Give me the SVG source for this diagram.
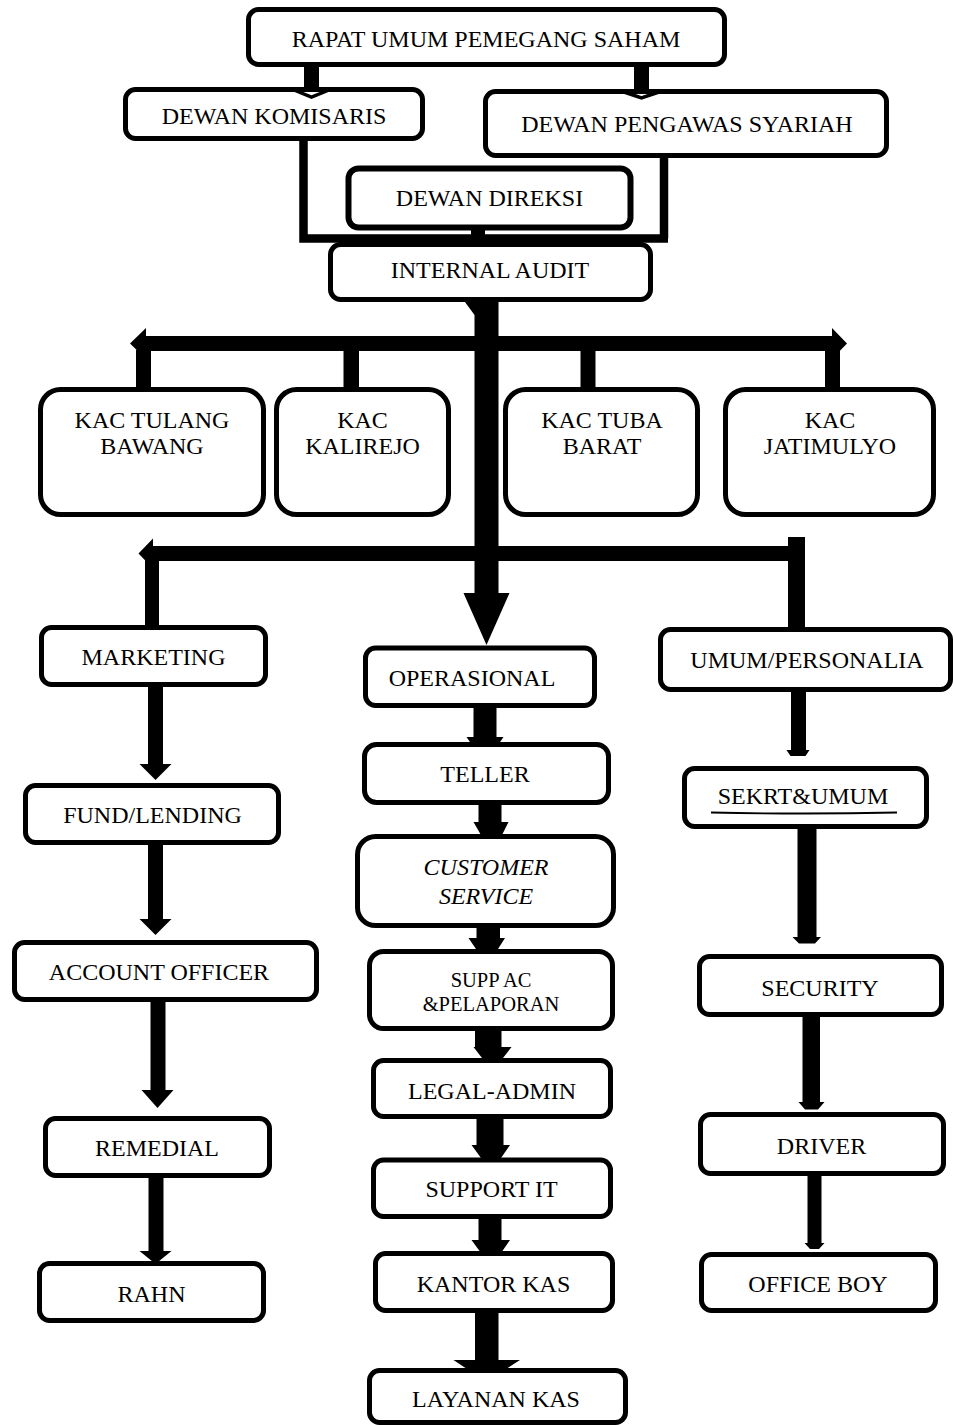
<svg xmlns="http://www.w3.org/2000/svg" width="953" height="1425" viewBox="0 0 953 1425">
<style>
.box{fill:#fff;stroke:#000;stroke-width:5}
.t{font-family:"Liberation Serif","Times New Roman",serif;font-size:24px;fill:#000;text-anchor:middle}
.ti{font-style:italic}
.s{font-size:20.5px}
.c{fill:#000;stroke:none}
.ln{fill:none;stroke:#000;stroke-width:8.5}
.v{fill:none;stroke:#000;stroke-width:3.5}
</style>
<rect width="953" height="1425" fill="#fff"/>
<g id="nodes">
<g id="rups"><rect class="box" x="248.5" y="9.5" width="476" height="55" rx="10"/><text class="t" x="486" y="46.7">RAPAT UMUM PEMEGANG SAHAM</text></g>
<g id="komisaris"><rect class="box" x="125.5" y="89.5" width="297" height="49" rx="10"/><text class="t" x="274" y="124">DEWAN KOMISARIS</text></g>
<g id="dps"><rect class="box" x="485.5" y="91.5" width="401" height="64" rx="10"/><text class="t" x="687" y="131.7">DEWAN PENGAWAS SYARIAH</text></g>
<g id="direksi"><rect class="box" x="348.5" y="168.5" width="282" height="59" rx="10" style="stroke-width:6"/><text class="t" x="489.5" y="205.7">DEWAN DIREKSI</text></g>
<g id="audit"><rect class="box" x="330.5" y="244.5" width="320" height="55" rx="10"/><text class="t" x="490" y="278.3">INTERNAL AUDIT</text></g>
<g id="kac1"><rect class="box" x="40.5" y="389.5" width="223" height="125" rx="20"/><text class="t" x="152" y="427.7">KAC TULANG</text><text class="t" x="152" y="454">BAWANG</text></g>
<g id="kac2"><rect class="box" x="276.5" y="389.5" width="172" height="125" rx="20"/><text class="t" x="362.5" y="427.7">KAC</text><text class="t" x="362.5" y="454">KALIREJO</text></g>
<g id="kac3"><rect class="box" x="505.5" y="389.5" width="192" height="125" rx="20"/><text class="t" x="602" y="427.7">KAC TUBA</text><text class="t" x="602" y="454">BARAT</text></g>
<g id="kac4"><rect class="box" x="725.5" y="389.5" width="208" height="125" rx="20"/><text class="t" x="830" y="427.7">KAC</text><text class="t" x="830" y="454">JATIMULYO</text></g>
<g id="marketing"><rect class="box" x="41.5" y="627.5" width="224" height="57" rx="10"/><text class="t" x="153.5" y="665">MARKETING</text></g>
<g id="operasional"><rect class="box" x="365.5" y="648" width="229" height="57.5" rx="10"/><text class="t" x="472" y="686">OPERASIONAL</text></g>
<g id="umum"><rect class="box" x="660.5" y="629.5" width="290" height="60" rx="10"/><text class="t" x="807" y="667.7">UMUM/PERSONALIA</text></g>
<g id="fund"><rect class="box" x="25.5" y="785.5" width="253" height="57" rx="10"/><text class="t" x="152.5" y="822.7">FUND/LENDING</text></g>
<g id="ao"><rect class="box" x="14.5" y="942.5" width="302" height="57" rx="10"/><text class="t" x="159" y="980">ACCOUNT OFFICER</text></g>
<g id="remedial"><rect class="box" x="45.5" y="1118.5" width="224" height="57" rx="10"/><text class="t" x="157" y="1155.7">REMEDIAL</text></g>
<g id="rahn"><rect class="box" x="39.5" y="1263.5" width="224" height="57" rx="10"/><text class="t" x="151.5" y="1301.7">RAHN</text></g>
<g id="teller"><rect class="box" x="364.5" y="744.5" width="244" height="58" rx="12"/><text class="t" x="485" y="782">TELLER</text></g>
<g id="cs"><rect class="box" x="357.5" y="836.5" width="256" height="89" rx="18"/><text class="t ti" x="486" y="875">CUSTOMER</text><text class="t ti" x="486" y="904.3">SERVICE</text></g>
<g id="suppac"><rect class="box" x="369.5" y="951.5" width="243" height="77" rx="14"/><text class="t s" x="491" y="987">SUPP AC</text><text class="t s" x="491" y="1011">&amp;PELAPORAN</text></g>
<g id="legal"><rect class="box" x="373.5" y="1060.5" width="237" height="56" rx="10"/><text class="t" x="492" y="1099.3">LEGAL-ADMIN</text></g>
<g id="supportit"><rect class="box" x="373.5" y="1160" width="237" height="56.5" rx="10"/><text class="t" x="491.5" y="1196.7">SUPPORT IT</text></g>
<g id="kantorkas"><rect class="box" x="375.5" y="1253.5" width="237" height="57" rx="10"/><text class="t" x="493.5" y="1291.7">KANTOR KAS</text></g>
<g id="layanankas"><rect class="box" x="369.5" y="1370.5" width="256" height="52" rx="10"/><text class="t" x="496" y="1407.3">LAYANAN KAS</text></g>
<g id="sekrt"><rect class="box" x="684.5" y="768.5" width="242" height="58" rx="10"/><text class="t" x="803" y="804">SEKRT&amp;UMUM</text><path d="M711,812.5 Q804,814.5 897,812.5" fill="none" stroke="#000" stroke-width="1.8"/></g>
<g id="security"><rect class="box" x="699.5" y="956.5" width="242" height="58" rx="10"/><text class="t" x="820" y="995.7">SECURITY</text></g>
<g id="driver"><rect class="box" x="700.5" y="1114.5" width="243" height="59" rx="10"/><text class="t" x="821.5" y="1154">DRIVER</text></g>
<g id="officeboy"><rect class="box" x="701.5" y="1254.5" width="234" height="56" rx="10"/><text class="t" x="818" y="1291.7">OFFICE BOY</text></g>
</g>
<g id="connectors">
<rect class="c" x="304" y="64" width="15" height="26"/>
<polyline class="v" points="294,90 311.5,97 329,90"/>
<rect class="c" x="634" y="64" width="15" height="28"/>
<polyline class="v" points="624,92 641.5,98 659,92"/>
<path class="ln" d="M303.5,138 V238.5 H668"/>
<path class="ln" d="M664,156 V238.5"/>
<rect class="c" x="471" y="228" width="14" height="12"/>
<path class="c" d="M463.5,300 H498.5 V593 H509.5 L486.5,645 L463.5,593 H474.5 V315 Z"/>
<path class="c" d="M130,343.5 L146,328 V336 H832 V328 L847,343.5 L832,359 V351 H146 V359 Z"/>
<rect class="c" x="136" y="350" width="15" height="40"/>
<rect class="c" x="343.5" y="350" width="15.5" height="40"/>
<rect class="c" x="580.5" y="350" width="15" height="40"/>
<rect class="c" x="825" y="350" width="15" height="40"/>
<path class="c" d="M138.5,553.5 L153,538.5 V546 H788 V537 H805 V630 H788 V561 H153 V568.5 Z"/>
<rect class="c" x="145" y="560" width="14" height="68"/>
<path class="c" d="M148,687 H163 V764 H171.5 L155.5,780 L139.5,764 H148 Z"/>
<path class="c" d="M148,845 H163 V919 H171.5 L155.5,935 L139.5,919 H148 Z"/>
<path class="c" d="M150.5,1002 H165.5 V1090 H173.5 L157.5,1108 L141.5,1090 H150.5 Z"/>
<path class="c" d="M148.5,1178 H163.5 V1251 H171.5 L155.5,1264 L139.5,1251 H148.5 Z"/>
<path class="c" d="M473.5,705 H496.5 V737 H503.5 L498,745 H472 L466.5,737 H473.5 Z"/>
<path class="c" d="M478.5,802 H501.5 V822 H508.5 L501.5,836 H481.5 L473.5,822 H478.5 Z"/>
<path class="c" d="M476.5,926 H500 V938 H505 L498,949 H476 L468.5,938 H476.5 Z"/>
<path class="c" d="M475,1029 H501.5 V1047 H511.5 L503,1058 H482 L473.5,1047 H475 Z"/>
<path class="c" d="M476.5,1117 H503.5 V1145 H510 L501,1158 H481 L471.5,1145 H476.5 Z"/>
<path class="c" d="M478.5,1216 H501.5 V1240 H510 L501,1253 H481 L471.5,1240 H478.5 Z"/>
<path class="c" d="M475,1311 H498.5 V1360 H520 L503,1371 H470 L453.5,1360 H475 Z"/>
<path class="c" d="M791,689 H806 V750 H809.5 L805.5,756 H790.5 L786.5,750 H791 Z"/>
<path class="c" d="M797.5,828 H816.5 V937 H821 L815,943.5 H799 L792.5,937 H797.5 Z"/>
<path class="c" d="M802.5,1016 H820 V1102 H824.5 L818,1109.5 H805 L798.5,1102 H802.5 Z"/>
<path class="c" d="M807.5,1175 H821.5 V1243 H824.5 L819,1249 H810 L804.5,1243 H807.5 Z"/>
</g>
</svg>
